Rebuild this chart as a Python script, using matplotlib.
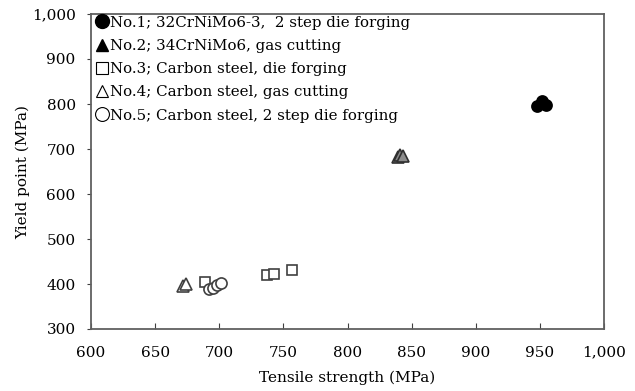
# yield point vs tensile strength for the five specimen groups

import numpy as np
import matplotlib
matplotlib.use("Agg")
import matplotlib.pyplot as plt
from matplotlib.ticker import FuncFormatter
from matplotlib.lines import Line2D

plt.rcParams['font.family'] = ['DejaVu Serif']

# data (MPa)
no1_ts = [948, 952, 955]
no1_yp = [795, 807, 798]
no2_ts = [839, 841, 843]
no2_yp = [683, 686, 685]
no3_ts = [689, 737, 743, 757]
no3_yp = [404, 421, 423, 431]
no4_ts = [672, 674]
no4_yp = [396, 400]
no5_ts = [692, 695, 698, 701]
no5_yp = [389, 391, 397, 402]

labels = ["No.1; 32CrNiMo6-3,  2 step die forging",
          "No.2; 34CrNiMo6, gas cutting",
          "No.3; Carbon steel, die forging",
          "No.4; Carbon steel, gas cutting",
          "No.5; Carbon steel, 2 step die forging"]

x_ticks = [600, 650, 700, 750, 800, 850, 900, 950, 1000]
y_ticks = [300, 400, 500, 600, 700, 800, 900, 1000]

fig = plt.figure(figsize=(6.35, 3.91), dpi=100)
ax = fig.add_axes([91/635, 1 - 329/391, (604-91)/635, (329-14)/391])

ms = 8
ax.plot(no1_ts, no1_yp, 'o', ms=ms, color='black', mec='black', mew=1.2, ls='none')
ax.plot(no2_ts, no2_yp, '^', ms=ms, color='#8c8c8c', mec='#303030', mew=1.2, ls='none')
ax.plot(no3_ts, no3_yp, 's', ms=ms - 0.5, mfc='white', mec='#404040', mew=1.2, ls='none')
ax.plot(no4_ts, no4_yp, '^', ms=ms, mfc='white', mec='#404040', mew=1.2, ls='none')
ax.plot(no5_ts, no5_yp, 'o', ms=ms, mfc='white', mec='#404040', mew=1.2, ls='none')

ax.set_xlim(600, 1000)
ax.set_ylim(300, 1000)
ax.set_xticks(x_ticks)
ax.set_yticks(y_ticks)
fmt = FuncFormatter(lambda v, p: f"{int(v):,}")
ax.xaxis.set_major_formatter(fmt)
ax.yaxis.set_major_formatter(fmt)

for s in ax.spines.values():
    s.set_color('#606060')
    s.set_linewidth(1.3)
ax.tick_params(axis='x', direction='in', length=4, color='#404040', labelsize=11, pad=12)
ax.tick_params(axis='y', direction='out', length=3, color='#404040', labelsize=11, pad=8)

ax.set_xlabel("Tensile strength (MPa)", fontsize=11, labelpad=8)
ax.set_ylabel("Yield point (MPa)", fontsize=11, labelpad=1)

handles = [
    Line2D([], [], marker='o', ls='none', ms=10, color='black'),
    Line2D([], [], marker='^', ls='none', ms=9, color='black'),
    Line2D([], [], marker='s', ls='none', ms=8.5, mfc='white', mec='black', mew=0.8),
    Line2D([], [], marker='^', ls='none', ms=9, mfc='white', mec='black', mew=0.8),
    Line2D([], [], marker='o', ls='none', ms=10, mfc='white', mec='black', mew=0.8),
]
leg = ax.legend(handles, labels, loc='upper left', bbox_to_anchor=(0.006, 1.0),
                borderaxespad=0, fontsize=10.8, handlelength=0.8, handletextpad=0.15,
                labelspacing=0.62, borderpad=0.1, frameon=False)

fig.savefig("out.png", dpi=100)
